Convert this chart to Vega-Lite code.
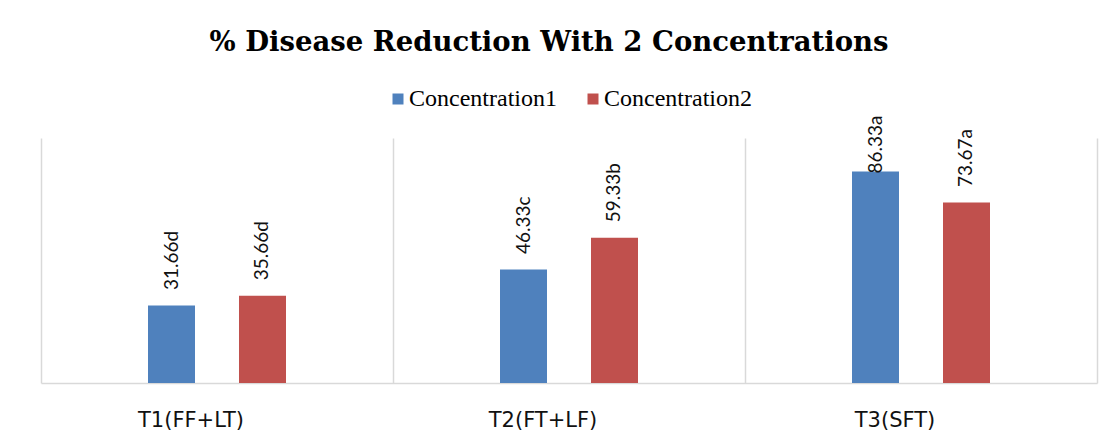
{
  "$schema": "https://vega.github.io/schema/vega-lite/v6.json",
  "width": 1056,
  "height": 245,
  "autosize": {"type": "none"},
  "padding": {"left": 41, "top": 138, "right": 22, "bottom": 48},
  "background": "white",
  "title": {
    "text": "% Disease Reduction With 2 Concentrations",
    "font": "DejaVu Serif",
    "fontSize": 27.5,
    "fontWeight": "bold",
    "color": "black",
    "anchor": "middle",
    "baseline": "alphabetic",
    "offset": 9,
    "dx": -20
  },
  "data": {
    "values": [
      {"treatment": "T1(FF+LT)", "series": "Concentration1", "value": 31.66, "label": "31.66d"},
      {"treatment": "T1(FF+LT)", "series": "Concentration2", "value": 35.66, "label": "35.66d"},
      {"treatment": "T2(FT+LF)", "series": "Concentration1", "value": 46.33, "label": "46.33c"},
      {"treatment": "T2(FT+LF)", "series": "Concentration2", "value": 59.33, "label": "59.33b"},
      {"treatment": "T3(SFT)", "series": "Concentration1", "value": 86.33, "label": "86.33a"},
      {"treatment": "T3(SFT)", "series": "Concentration2", "value": 73.67, "label": "73.67a"}
    ]
  },
  "encoding": {
    "x": {
      "field": "treatment",
      "type": "nominal",
      "sort": null,
      "scale": {"paddingInner": 0, "paddingOuter": 0},
      "axis": {
        "title": null,
        "labelAngle": 0,
        "labelFont": "DejaVu Sans",
        "labelFontSize": 21,
        "labelColor": "#111111",
        "labelBaseline": "top",
        "labelPadding": 26,
        "labelOffset": -26,
        "ticks": false,
        "tickSize": 0,
        "grid": true,
        "bandPosition": 0,
        "gridColor": "#d9d9d9",
        "gridWidth": 1.5,
        "domainColor": "#d9d9d9",
        "domainWidth": 1.5
      }
    },
    "xOffset": {
      "field": "series",
      "type": "nominal",
      "scale": {"range": [107, 245], "paddingInner": 0.4835, "paddingOuter": 0}
    }
  },
  "layer": [
    {
      "mark": {"type": "bar"},
      "encoding": {
        "y": {
          "field": "value",
          "type": "quantitative",
          "scale": {"domain": [0, 100], "nice": false},
          "axis": {
            "orient": "right",
            "title": null,
            "labels": false,
            "ticks": false,
            "grid": false,
            "domain": true,
            "domainColor": "#d9d9d9",
            "domainWidth": 1.5
          }
        },
        "color": {
          "field": "series",
          "type": "nominal",
          "scale": {"domain": ["Concentration1", "Concentration2"], "range": ["#4F81BD", "#C0504D"]},
          "legend": {
            "title": null,
            "orient": "none",
            "direction": "horizontal",
            "legendX": 345,
            "legendY": -51
          }
        }
      }
    },
    {
      "transform": [
        {"calculate": "min(datum.value + 6.3, 85.5)", "as": "labelPos"}
      ],
      "mark": {
        "type": "text",
        "angle": 270,
        "align": "left",
        "baseline": "middle",
        "font": "Lato",
        "fontSize": 19,
        "color": "#111111"
      },
      "encoding": {
        "y": {"field": "labelPos", "type": "quantitative"},
        "text": {"field": "label"}
      }
    }
  ],
  "config": {
    "view": {"stroke": null},
    "legend": {
      "labelFont": "Liberation Serif",
      "labelFontSize": 24,
      "labelColor": "black",
      "symbolType": "square",
      "symbolSize": 121,
      "symbolStrokeWidth": 0,
      "columnPadding": 24,
      "labelOffset": -1,
      "padding": 0
    }
  }
}
